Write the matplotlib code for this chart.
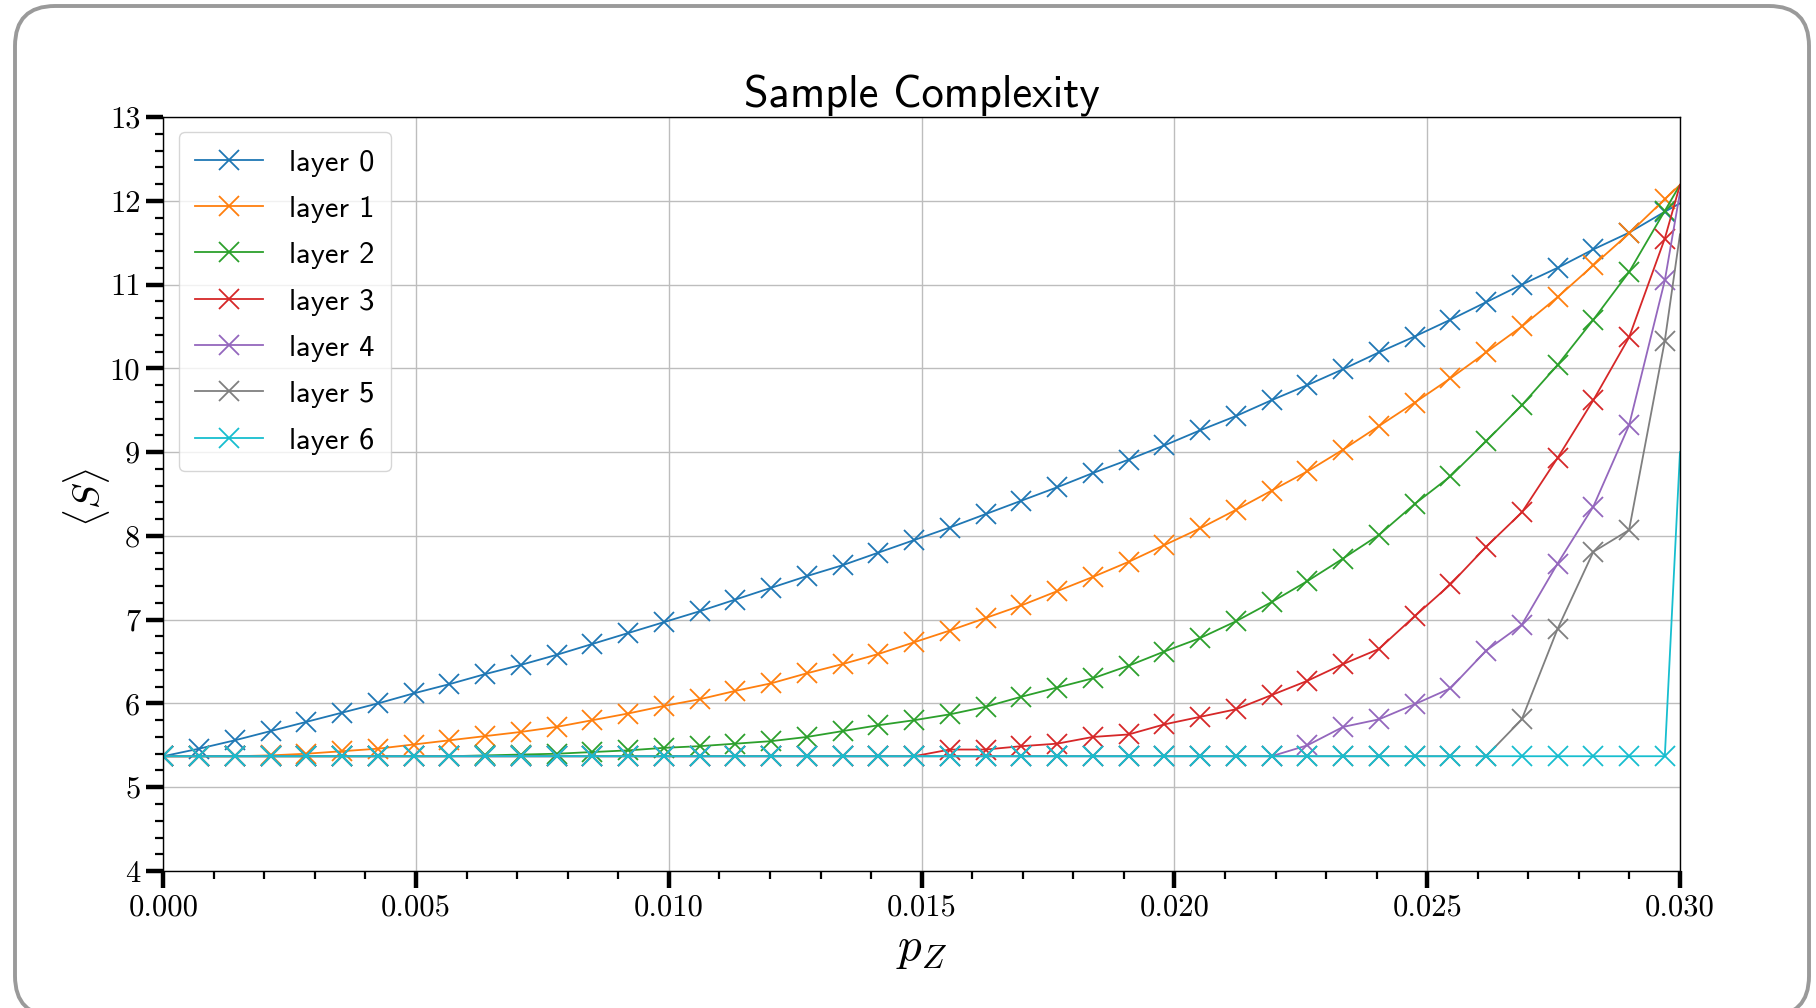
import numpy as np
import matplotlib
matplotlib.use("Agg")
import matplotlib.pyplot as plt
from matplotlib.patches import FancyBboxPatch
from matplotlib.transforms import IdentityTransform
from matplotlib.ticker import MultipleLocator, FormatStrFormatter

plt.rcParams['font.family'] = ['cmss10', 'DejaVu Sans']
plt.rcParams['mathtext.fontset'] = 'cm'
plt.rcParams['axes.unicode_minus'] = False
plt.rcParams['axes.formatter.use_mathtext'] = True

# p_Z grid: 43 sampled points, plus the end point at 0.03 (drawn without a marker)
pz = np.append(np.linspace(0.0, 0.0297, 43), 0.03)

layer0 = [5.37, 5.46, 5.56, 5.67, 5.78, 5.89, 6.00, 6.12, 6.23, 6.35, 6.46,
          6.58, 6.71, 6.84, 6.97, 7.10, 7.24, 7.38, 7.52, 7.65, 7.80, 7.95,
          8.10, 8.26, 8.42, 8.58, 8.75, 8.91, 9.08, 9.26, 9.43, 9.62, 9.80,
          9.99, 10.19, 10.38, 10.58, 10.79, 11.00, 11.20, 11.42, 11.62, 11.87,
          11.97]
layer1 = [5.37, 5.37, 5.37, 5.38, 5.40, 5.43, 5.46, 5.51, 5.56, 5.61, 5.66,
          5.72, 5.80, 5.88, 5.97, 6.05, 6.15, 6.24, 6.36, 6.47, 6.59, 6.73,
          6.87, 7.02, 7.17, 7.34, 7.51, 7.69, 7.89, 8.09, 8.31, 8.54, 8.77,
          9.03, 9.31, 9.59, 9.88, 10.19, 10.50, 10.85, 11.23, 11.61, 12.02,
          12.19]
layer2 = [5.37, 5.37, 5.37, 5.37, 5.37, 5.37, 5.37, 5.37, 5.37, 5.38, 5.39,
          5.40, 5.42, 5.44, 5.47, 5.49, 5.52, 5.55, 5.60, 5.67, 5.74, 5.80,
          5.87, 5.96, 6.08, 6.19, 6.30, 6.45, 6.62, 6.78, 6.98, 7.21, 7.46,
          7.73, 8.01, 8.38, 8.71, 9.13, 9.56, 10.04, 10.58, 11.15, 11.88,
          12.19]
layer3 = [5.37] * 22 + [5.45, 5.45, 5.49, 5.52, 5.60, 5.63, 5.75, 5.84, 5.93,
                        6.10, 6.27, 6.47, 6.65, 7.04, 7.42, 7.87, 8.28, 8.93,
                        9.62, 10.37, 11.55, 12.19]
layer4 = [5.37] * 32 + [5.50, 5.72, 5.81, 5.99, 6.18, 6.63, 6.94, 7.67, 8.35,
                        9.32, 11.05, 12.10]
layer5 = [5.37] * 38 + [5.81, 6.89, 7.81, 8.07, 10.33, 11.60]
layer6 = [5.37] * 43 + [9.00]

series = [layer0, layer1, layer2, layer3, layer4, layer5, layer6]
labels = ["layer 0", "layer 1", "layer 2", "layer 3", "layer 4", "layer 5", "layer 6"]
colors = ["#1f77b4", "#ff7f0e", "#2ca02c", "#d62728", "#9467bd", "#7f7f7f", "#17becf"]

fig = plt.figure(figsize=(18.16, 10.08), dpi=100)
ax = fig.add_axes([0.0899, 0.1359, 0.8352, 0.748])

for ys, lab, c in zip(series, labels, colors):
    ax.plot(pz, ys, color=c, lw=1.3, marker='x', ms=14, mew=1.3,
            markevery=slice(0, 43), label=lab)

ax.set_xlim(0, 0.03)
ax.set_ylim(4, 13)
ax.xaxis.set_major_locator(MultipleLocator(0.005))
ax.xaxis.set_minor_locator(MultipleLocator(0.001))
ax.xaxis.set_major_formatter(FormatStrFormatter('%.3f'))
ax.yaxis.set_major_locator(MultipleLocator(1))
ax.yaxis.set_minor_locator(MultipleLocator(0.2))
ax.yaxis.set_major_formatter(FormatStrFormatter('%d'))

ax.tick_params(which='major', direction='out', length=12, width=3.2,
               labelsize=22, pad=4.5, labelfontfamily='cmr10')
ax.tick_params(which='minor', direction='out', length=5.5, width=1.6)
for s in ax.spines.values():
    s.set_linewidth(1.0)

ax.grid(True, which='major', color='#bdbdbd', lw=1.0)
ax.set_axisbelow(True)

ax.set_title("Sample Complexity", fontsize=32, pad=7)
ax.set_xlabel(r"$p_Z$", fontsize=34, va='center')
ax.xaxis.set_label_coords(0.5, -0.105)
ax.set_ylabel(r"$\langle S \rangle$", fontsize=28, va='center', ha='center')
ax.yaxis.set_label_coords(-0.0505, 0.495)

ax.legend(loc='upper left', fontsize=22, handlelength=2.2, handletextpad=0.85,
          labelspacing=0.62, borderpad=0.55)

# rounded frame around the whole figure
frame = FancyBboxPatch((15, -8), 1794, 1010,
                       boxstyle="round,pad=0,rounding_size=40",
                       transform=IdentityTransform(), fill=False,
                       edgecolor='#9a9a9a', lw=2.8)
fig.add_artist(frame)

fig.savefig("out.png", dpi=100)
